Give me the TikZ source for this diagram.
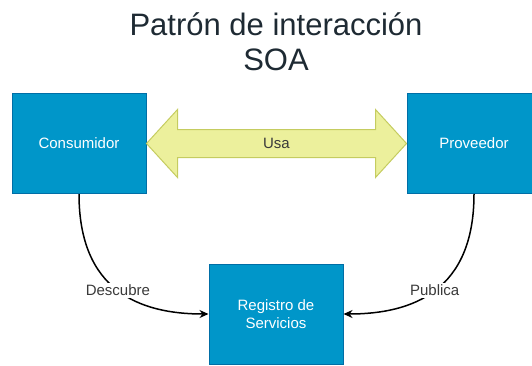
\documentclass[tikz,border=0pt]{standalone}
\usepackage{fontspec}
\setmainfont{Liberation Sans}
\usepackage{xcolor}
\usepackage{tikz}
\usetikzlibrary{arrows.meta, positioning, calc}

\definecolor{boxblue}{HTML}{0096C9}
\definecolor{boxline}{HTML}{006EA6}
\definecolor{usafill}{HTML}{ECF09C}
\definecolor{usaline}{HTML}{C5CC60}
\definecolor{titlecol}{HTML}{1E2A33}
\definecolor{lblcol}{HTML}{3A3A3A}

\begin{document}
\begin{tikzpicture}[
    x=1pt, y=-1pt,
    box/.style={draw=boxline, line width=1pt, fill=boxblue, minimum width=134pt, minimum height=100pt, align=center, text=white, font=\fontsize{15}{18}\selectfont},
    link/.style={line width=1.5pt, -{Stealth[length=9pt, width=8pt]}},
    lbl/.style={fill=white, inner sep=2pt, text=lblcol, font=\fontsize{15}{18}\selectfont}
]
    \useasboundingbox (0,0) rectangle (532,365);
    \node[align=center, text=titlecol, font=\fontsize{31}{35}\selectfont] (title) at (276,42) {Patrón de interacción\\SOA};

    \node[box] (cons) at (79,143.5) {Consumidor};
    \node[box] (prov) at (474,143.5) {Proveedor};
    \node[box] (reg) at (276,314) {Registro de\\Servicios};

    % double arrow between the two boxes
    \draw[draw=usaline, fill=usafill, line width=1pt]
        (cons.east) -- ($(cons.east)+(31,-34)$) -- ($(cons.east)+(31,-14)$)
        -- ($(prov.west)+(-31,-14)$) -- ($(prov.west)+(-31,-34)$) -- (prov.west)
        -- ($(prov.west)+(-31,34)$) -- ($(prov.west)+(-31,14)$)
        -- ($(cons.east)+(31,14)$) -- ($(cons.east)+(31,34)$) -- cycle;
    \node[text=lblcol, font=\fontsize{15}{18}\selectfont] (usa) at ($(cons.east)!0.5!(prov.west)$) {Usa};

    \draw[link] (cons.south) to[out=-90, in=180, out looseness=1.4] node[lbl] {Descubre} (reg.west);
    \draw[link] (prov.south) to[out=-90, in=0, out looseness=1.4] node[lbl] {Publica} (reg.east);
\end{tikzpicture}
\end{document}
